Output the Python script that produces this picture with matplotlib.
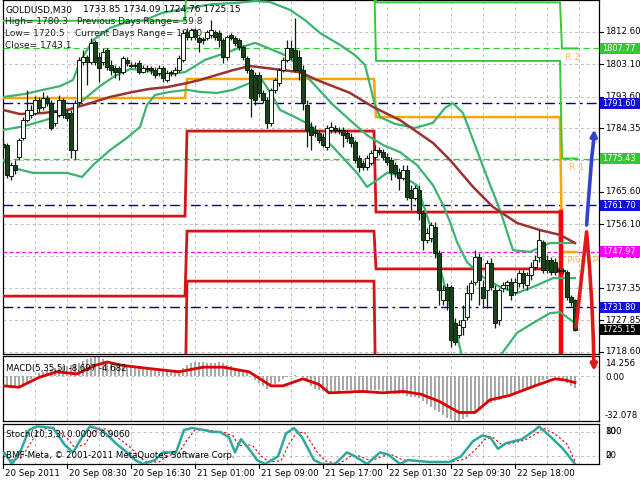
import numpy as np
import matplotlib
matplotlib.use("Agg")
import matplotlib.pyplot as plt
import matplotlib.transforms as mtransforms
from matplotlib.patches import Rectangle
from matplotlib.lines import Line2D

plt.rcParams['font.family'] = ['DejaVu Sans']

# ---------------- candle data (GOLDUSD M30) ----------------
open_ = [1779.7, 1779.4, 1770.3, 1773.5, 1775.9, 1781.5, 1786.7, 1788.2, 1788.8, 1792.6,
         1790.6, 1793.2, 1791.7, 1785.9, 1788.2, 1792.6, 1788.8, 1788.8, 1777.9, 1792.0,
         1803.8, 1805.3, 1803.8, 1809.7, 1805.3, 1803.8, 1807.3, 1802.9, 1802.0, 1802.0,
         1800.8, 1804.4, 1802.9, 1802.9, 1803.5, 1800.8, 1802.0, 1802.0, 1801.4, 1800.6,
         1802.0, 1798.5, 1800.6, 1800.6, 1801.4, 1804.4, 1812.6, 1811.1, 1813.2, 1810.8,
         1810.5, 1810.8, 1811.7, 1812.6, 1812.3, 1810.2, 1805.3, 1811.7, 1810.8, 1810.2,
         1808.2, 1805.0, 1801.4, 1800.0, 1800.0, 1794.7, 1792.6, 1785.9, 1795.6, 1797.6,
         1801.4, 1804.4, 1807.9, 1807.3, 1805.3, 1801.4, 1791.2, 1784.7, 1783.8, 1782.9,
         1781.7, 1778.8, 1783.8, 1784.4, 1783.8, 1783.8, 1782.9, 1781.7, 1780.3, 1775.6,
         1774.1, 1772.9, 1774.1, 1775.9, 1777.9, 1777.3, 1775.9, 1775.0, 1773.5, 1771.5,
         1769.7, 1772.1, 1766.2, 1763.8, 1766.2, 1759.4, 1751.5, 1752.1, 1755.3, 1747.7,
         1733.9, 1737.7, 1737.7, 1727.1, 1723.6, 1725.9, 1728.9, 1735.9, 1739.1, 1746.5,
         1737.7, 1736.8, 1744.7, 1736.8, 1728.0, 1737.4, 1738.3, 1739.1, 1736.2, 1738.9,
         1741.8, 1738.3, 1741.2, 1743.6, 1746.5, 1750.9, 1745.6, 1745.6, 1745.0, 1742.7,
         1742.7, 1742.1, 1734.7, 1733.85]
high_ = [1780.6, 1780.0, 1774.4, 1775.0, 1781.5, 1787.6, 1795.6, 1791.2, 1793.8, 1793.5,
         1795.0, 1794.1, 1792.6, 1789.7, 1794.1, 1793.2, 1789.7, 1789.7, 1792.6, 1805.3,
         1807.3, 1805.8, 1810.8, 1810.2, 1806.7, 1807.9, 1807.9, 1804.4, 1802.9, 1802.6,
         1805.5, 1805.3, 1803.8, 1803.8, 1804.4, 1802.9, 1802.9, 1802.6, 1802.3, 1802.9,
         1802.6, 1801.4, 1801.4, 1802.3, 1805.8, 1813.2, 1813.8, 1813.8, 1813.8, 1811.4,
         1811.1, 1813.2, 1816.1, 1813.2, 1813.2, 1810.8, 1811.7, 1812.3, 1811.4, 1810.8,
         1808.8, 1805.5, 1802.0, 1800.8, 1800.8, 1795.6, 1793.5, 1796.1, 1799.1, 1802.0,
         1805.3, 1810.2, 1810.2, 1816.7, 1807.3, 1802.9, 1792.6, 1786.2, 1785.3, 1783.8,
         1782.9, 1785.3, 1786.2, 1785.3, 1784.7, 1784.7, 1783.8, 1782.9, 1780.9, 1776.5,
         1775.0, 1776.5, 1777.9, 1779.4, 1778.8, 1778.2, 1777.0, 1775.9, 1774.4, 1772.6,
         1773.5, 1773.5, 1767.6, 1767.6, 1767.6, 1760.3, 1755.0, 1756.8, 1756.8, 1748.5,
         1738.3, 1738.9, 1738.3, 1728.6, 1728.0, 1732.4, 1738.3, 1739.7, 1748.5, 1747.7,
         1739.7, 1745.6, 1746.2, 1738.3, 1737.4, 1739.1, 1739.7, 1740.3, 1740.3, 1742.7,
         1742.7, 1742.1, 1745.0, 1747.1, 1754.4, 1751.5, 1747.1, 1746.5, 1746.2, 1743.3,
         1743.3, 1742.7, 1735.3, 1734.09]
low_ = [1777.9, 1769.7, 1769.1, 1770.9, 1775.0, 1780.9, 1786.2, 1787.3, 1788.2, 1789.1,
        1789.7, 1790.9, 1783.8, 1785.0, 1787.6, 1787.3, 1786.4, 1775.6, 1775.3, 1791.2,
        1802.9, 1797.0, 1803.2, 1802.9, 1797.9, 1802.9, 1801.4, 1800.0, 1799.1, 1798.5,
        1800.3, 1802.6, 1802.0, 1802.0, 1800.3, 1800.6, 1800.8, 1800.3, 1799.1, 1799.7,
        1797.9, 1797.9, 1799.7, 1799.7, 1800.8, 1803.8, 1810.2, 1810.2, 1810.2, 1806.7,
        1809.1, 1810.2, 1810.8, 1810.2, 1808.2, 1803.5, 1804.4, 1810.2, 1808.5, 1807.3,
        1804.4, 1800.6, 1787.6, 1791.2, 1793.5, 1791.7, 1784.4, 1785.0, 1794.7, 1796.7,
        1800.8, 1803.8, 1804.4, 1800.8, 1798.5, 1789.7, 1778.8, 1777.9, 1781.7, 1780.0,
        1778.8, 1777.9, 1782.9, 1782.9, 1782.6, 1778.8, 1780.3, 1778.8, 1774.1, 1771.5,
        1772.1, 1772.1, 1773.5, 1775.0, 1776.5, 1775.0, 1773.5, 1769.1, 1770.0, 1766.2,
        1769.1, 1763.2, 1760.3, 1763.2, 1757.4, 1748.5, 1750.6, 1750.9, 1746.2, 1732.4,
        1732.4, 1730.9, 1720.0, 1720.6, 1722.7, 1723.6, 1728.0, 1733.9, 1738.3, 1732.4,
        1731.5, 1731.5, 1736.8, 1725.6, 1726.5, 1736.2, 1736.8, 1733.9, 1735.3, 1737.7,
        1737.4, 1736.8, 1739.7, 1742.7, 1745.0, 1741.8, 1741.8, 1741.2, 1741.2, 1741.8,
        1741.5, 1733.9, 1732.1, 1724.76]
close_ = [1778.8, 1770.6, 1773.5, 1772.1, 1780.9, 1786.7, 1789.7, 1789.7, 1792.6, 1790.3,
          1793.2, 1791.7, 1784.4, 1789.1, 1792.6, 1788.2, 1787.3, 1777.9, 1791.7, 1804.4,
          1805.3, 1803.8, 1809.4, 1803.8, 1802.0, 1806.7, 1802.3, 1801.4, 1800.8, 1800.8,
          1805.0, 1803.5, 1802.6, 1802.6, 1800.8, 1802.0, 1801.7, 1801.4, 1800.0, 1802.0,
          1799.1, 1800.6, 1800.8, 1801.4, 1805.0, 1812.3, 1811.1, 1813.2, 1811.1, 1809.7,
          1810.2, 1812.6, 1813.2, 1811.1, 1810.2, 1805.3, 1811.1, 1810.8, 1809.4, 1808.2,
          1805.3, 1801.4, 1793.2, 1792.6, 1794.7, 1792.6, 1785.9, 1795.6, 1798.5, 1801.4,
          1804.4, 1807.9, 1805.3, 1801.4, 1801.4, 1791.7, 1783.8, 1782.3, 1782.9, 1780.9,
          1779.4, 1784.4, 1784.7, 1783.8, 1783.5, 1782.3, 1781.5, 1780.0, 1775.0, 1772.9,
          1772.9, 1775.6, 1777.0, 1777.9, 1777.3, 1775.9, 1774.4, 1771.5, 1771.2, 1769.7,
          1772.1, 1764.1, 1763.8, 1766.8, 1759.4, 1751.5, 1753.5, 1755.9, 1747.7, 1736.8,
          1736.8, 1733.9, 1722.1, 1721.5, 1726.5, 1728.0, 1735.9, 1738.9, 1746.5, 1739.7,
          1734.4, 1744.7, 1737.7, 1727.1, 1736.8, 1738.3, 1739.1, 1735.3, 1739.1, 1741.8,
          1738.9, 1741.2, 1743.6, 1745.6, 1751.5, 1742.7, 1742.7, 1742.1, 1742.1, 1742.4,
          1742.4, 1734.7, 1733.3, 1725.15]

# ---------------- indicator readings (bar position, value) ----------------
bb_up_x = [0, 5.5, 10, 14.25, 17.5, 19.25, 22.5, 26.75, 31, 35.5, 39.75, 43.75, 48, 52.25, 58, 63,
           66.75, 71.75, 75.5, 79.25, 84.25, 88, 90.5, 91.75, 93, 94.25, 98, 103, 107.5, 110.5,
           112.5, 115, 118, 121, 124.25, 127.5, 131.75, 136.75, 143]
bb_up_y = [1793.5, 1794.4, 1795.6, 1796.7, 1798.5, 1803.8, 1810.2, 1813.8, 1815.5, 1816.1, 1818.2,
           1819.1, 1819.9, 1820.8, 1821.1, 1821.7, 1821.4, 1819.1, 1816.1, 1812.3, 1808.8, 1805.8,
           1802.9, 1797.0, 1791.2, 1787.6, 1785.6, 1784.4, 1785.9, 1790.3, 1791.7, 1788.8, 1779.4,
           1770.0, 1760.3, 1748.5, 1748.0, 1750.6, 1750.6]
bb_mid_x = [0, 5.5, 10.5, 14.25, 18, 21.25, 24.25, 28, 31.75, 35.5, 40.5, 45.5, 50.5, 55.5, 59.75,
            63, 66.25, 70.5, 73, 76.75, 82.5, 86.75, 91, 95, 99.25, 103.5, 107.5, 110, 111.75,
            113.5, 116, 120, 124.25, 128.5, 132.5, 137.5, 143]
bb_mid_y = [1783.8, 1785.0, 1786.7, 1788.2, 1790.6, 1793.8, 1796.7, 1799.7, 1801.7, 1801.4, 1800.0,
            1800.8, 1804.4, 1806.4, 1808.2, 1809.4, 1807.9, 1805.8, 1803.8, 1798.5, 1791.2, 1786.7,
            1782.3, 1779.4, 1777.3, 1773.5, 1767.6, 1761.8, 1756.8, 1750.9, 1745.0, 1740.6, 1737.7,
            1735.9, 1737.7, 1740.3, 1740.3]
bb_lo_x = [0, 1.75, 7.5, 16, 19.75, 22.5, 26.75, 31, 34.25, 36, 38, 41.75, 46, 49.25, 53.5, 57.5,
           61.75, 64.75, 67.25, 69.25, 73, 76.75, 82.5, 88.5, 91, 93.5, 96, 99.25, 103.5, 106.75,
           109.25, 112.5, 115, 116.75, 121.75, 123.5, 128.5, 132.5, 136.75, 139.25, 143]
bb_lo_y = [1775.0, 1772.9, 1771.2, 1771.2, 1770.0, 1773.5, 1777.9, 1781.5, 1784.7, 1791.2, 1794.1,
           1795.0, 1795.6, 1795.0, 1794.7, 1795.6, 1797.6, 1798.5, 1794.1, 1789.7, 1787.6, 1785.3,
           1778.8, 1771.2, 1767.1, 1769.1, 1771.2, 1770.6, 1767.6, 1755.9, 1743.6, 1728.0, 1716.2,
           1710.3, 1710.3, 1716.2, 1724.2, 1727.1, 1730.0, 1730.3, 1727.1]
ma_x = [0, 4.25, 10, 16, 21, 26.75, 32.5, 36.75, 41, 46, 49.25, 53.5, 57.5, 61.75, 66, 70, 74.25,
        78.5, 86.75, 92.5, 99.25, 107.5, 111.75, 117.5, 122.5, 128.5, 134.25, 139.25, 143]
ma_y = [1789.7, 1788.5, 1788.8, 1789.7, 1791.4, 1793.5, 1795.0, 1795.9, 1796.4, 1797.6, 1798.5,
        1800.0, 1801.4, 1802.6, 1802.0, 1801.4, 1800.8, 1798.5, 1794.7, 1790.6, 1786.7, 1780.0,
        1775.0, 1767.1, 1761.2, 1756.5, 1754.4, 1753.0, 1750.6]

# daily pivot levels (4 days)
day_start = [0, 46, 93.25, 139.75]
day_end = [45.5, 92.75, 139.25, 143.5]
pivot_p = [1793.2, 1798.8, 1787.6, 1747.97]
pivot_r1 = [1815.9, 1830.0, 1804.1, 1775.43]
pivot_r2 = [1835.0, 1840.0, 1821.3, 1807.77]
pivot_s1 = [1758.5, 1783.5, 1759.7, 1700.0]
pivot_s2 = [1735.0, 1754.1, 1743.0, 1695.0]
pivot_s3 = [1700.0, 1739.4, 1700.0, 1690.0]

navy_levels = [1791.60, 1761.70, 1731.80]
green_levels = [1807.77, 1775.43]
magenta_level = 1747.97
last_price = 1725.15

price_grid = [1812.60, 1803.10, 1793.60, 1784.35, 1775.10, 1765.60, 1756.10, 1746.85,
              1737.35, 1727.85, 1718.60]
price_grid_labels = [1812.60, 1803.10, 1793.60, 1784.35, 1765.60, 1756.10, 1746.85,
                     1737.35, 1727.85, 1718.60]

blue_x = [145.9, 146.3, 146.75, 147.2, 147.6]
blue_y = [1755.9, 1762.3, 1769.1, 1775.9, 1780.0]
blue_tip = (147.85, 1784.0)
red_x = [143.25, 144.3, 145.2, 145.9, 146.6, 147.2, 147.6]
red_y = [1725.9, 1737.0, 1746.5, 1753.9, 1744.0, 1733.0, 1722.0]
red_tip = (147.75, 1713.0)

macd_hist = [-6, -7, -8, -8, -7, -6,
             -4, -2, 0, 2,
             3, 4, 5, 6, 6, 7, 7, 8, 8, 9,
             11, 12, 13, 14.2, 13.5, 12, 11,
             10, 9, 8, 8, 7, 7, 7, 6, 6, 6, 6, 5, 5, 4, 4, 3, 3, 4,
             6, 8, 9, 10, 10, 10, 9, 9, 9, 10, 9, 8, 7,
             6, 5, 4, 2, 0, -3, -5, -7, -9,
             -8, -6, -4, -2, -1, 0, 1, 0, -1,
             -4, -7, -9, -10, -11, -12, -12,
             -11, -11, -10, -10, -10, -11, -12, -12, -11, -10, -10, -10, -11,
             -12, -12, -13, -13, -13, -14, -15, -15, -16,
             -18, -20, -22, -24, -26, -28, -30, -31, -32, -32.078,
             -31, -29, -27, -25, -23, -21,
             -20, -19, -18, -17, -16, -15, -14, -13, -12, -11, -10, -8, -7, -5, -3, -2, -1,
             -1, -2, -3, -5, -7, -8.697]
macd_sig_x = [0, 4, 9, 13.5, 18.5, 23, 26, 30, 37.5, 44, 50, 55, 61.5, 67, 70, 75, 79, 81.5, 90,
              95, 100, 104.5, 109, 114, 118, 121.75, 126.5, 133, 138, 140.75, 143]
macd_sig_y = [-7, -8, -1, 3, 1.5, 7.5, 10, 7.5, 5, 3, 6.3, 6.3, 3, -7, -7, -2, -6, -12, -11, -12,
              -11, -13, -18, -26, -26, -17, -14, -7, -2, -3, -4.682]

stoch_k_x = [0, 0.25, 2.25, 4.25, 6.5, 8.5, 12.5, 15.5, 17.5, 19.75, 21.75, 24.75, 28.75, 31, 33,
             35, 38, 40, 43.25, 45.25, 47.25, 50.25, 52.25, 54.25, 56.5, 58, 59.5, 61.5, 63.5, 65.5,
             68.75, 70.75, 72.75, 74.75, 77.75, 79.75, 83, 86, 88, 91, 94.25, 96.25, 99.25, 101.25,
             106.5, 111.5, 114.5, 117.5, 119.75, 121.75, 123.75, 125.75, 129.75, 133, 134, 137, 140, 143]
stoch_k_y = [25, 29, 0, 29, 85, 94, 90, 47, 29, 67, 94, 85, 47, 29, 10, 0, 10, 29, 29, 85, 90, 85,
             80, 80, 67, 29, 62, 38, 10, 0, 19, 76, 90, 67, 10, 0, 0, 29, 19, 0, 29, 24, 0, 10, 5,
             5, 19, 57, 71, 67, 38, 52, 62, 85, 94, 67, 38, 0]
stoch_d_x = [0, 2.25, 4.5, 6.75, 9, 12.5, 16, 18, 20.5, 22.5, 25.5, 29.5, 32, 34, 36, 39, 41, 44,
             46, 48, 51, 53, 55, 57.5, 59, 60.5, 62.5, 64.5, 66.5, 69.5, 71.5, 73.5, 75.5, 78.5,
             80.5, 84, 87, 89, 92, 95, 97, 100, 102, 107, 112, 115.5, 118.5, 120.5, 122.5, 124.5,
             126.5, 130.5, 134, 135, 138, 141, 143]
stoch_d_y = [20, 10, 15, 50, 85, 92, 65, 40, 50, 80, 88, 60, 40, 18, 5, 5, 20, 28, 60, 85, 85, 82,
             80, 70, 45, 50, 45, 20, 5, 8, 50, 80, 78, 30, 8, 0, 20, 20, 8, 20, 24, 10, 8, 5, 5,
             12, 40, 62, 66, 50, 50, 60, 80, 90, 75, 50, 6.906]

time_labels = ["20 Sep 2011", "20 Sep 08:30", "20 Sep 16:30", "21 Sep 01:00", "21 Sep 09:00",
               "21 Sep 17:00", "22 Sep 01:30", "22 Sep 09:30", "22 Sep 18:00"]
time_label_bars = [0, 16, 32, 48, 64, 80, 96, 112, 128]

# ---------------- layout ----------------
W, H = 640, 480
fig = plt.figure(figsize=(6.4, 4.8), dpi=100)
fig.patch.set_facecolor('white')
def fx(px): return px / W
def fy(py): return 1 - py / H

L, R = 3, 599
NB = (R - L) / 4.0
FS = 6.2
GRID = '#BEBEBE'

def make_ax(top, bottom):
    a = fig.add_axes([fx(L), fy(bottom), (R - L) / W, (bottom - top) / H])
    a.set_xlim(0, NB)
    a.set_xticks([]); a.set_yticks([])
    for s in a.spines.values():
        s.set_linewidth(0.9); s.set_color('black')
    for b in range(8, int(NB) + 1, 8):
        a.axvline(b, color=GRID, lw=0.7, dashes=(3, 3), zorder=1)
    return a

ax2 = make_ax(356, 421)
ax2.set_ylim(-32.078, 14.256)
ax3 = make_ax(424, 464)
ax3.set_ylim(0, 100)
ax = make_ax(0, 354)
ax.set_ylim(1718.0, 1822.0)
ax.set_zorder(5)

# ---------------- main panel ----------------
for lv in price_grid:
    ax.axhline(lv, color=GRID, lw=0.7, dashes=(3, 3), zorder=1)
for lv in navy_levels:
    ax.axhline(lv, color='#000080', lw=1.0, dashes=(7, 3, 2, 3), zorder=3)
for lv in green_levels:
    ax.axhline(lv, color='#32CD32', lw=0.9, dashes=(5, 3), zorder=3)
ax.axhline(magenta_level, color='#FF00FF', lw=0.9, dashes=(3, 2), zorder=3)

def step_line(vals):
    xs, ys = [], []
    for d in range(4):
        xs += [day_start[d], day_end[d]]
        ys += [vals[d], vals[d]]
    return xs, ys

for vals, col, lw in [(pivot_s3, '#D41515', 2.0), (pivot_s2, '#D41515', 2.0),
                      (pivot_s1, '#D41515', 2.0), (pivot_p, '#FFA500', 1.8),
                      (pivot_r1, '#32CD32', 1.4), (pivot_r2, '#32CD32', 1.4)]:
    xs, ys = step_line(vals)
    ax.plot(xs, ys, color=col, lw=lw, zorder=4, solid_joinstyle='miter')
ax.plot([139.5, 139.5], [pivot_s1[2], 1710.0], color='#FF0000', lw=3.2, zorder=4)

ax.plot(bb_up_x, bb_up_y, color='#3CB371', lw=1.6, zorder=5)
ax.plot(bb_mid_x, bb_mid_y, color='#3CB371', lw=1.6, zorder=5)
ax.plot(bb_lo_x, bb_lo_y, color='#3CB371', lw=1.6, zorder=5)
ax.plot(ma_x, ma_y, color='#9A3232', lw=1.8, zorder=6)

for txt, bx, lv in [("R 2", 140.5, 1805.2), ("R 1", 141.5, 1772.9), ("Pivot Point", 141.0, 1745.6)]:
    ax.text(bx, lv, txt, color='#F2B86A', fontsize=FS + 0.5, va='center', ha='left', zorder=7,
            clip_on=True)

# header texts
hdr = dict(transform=fig.transFigure, fontsize=FS + 0.3, va='center', ha='left', zorder=8, clip_on=False)
ax.text(fx(5), fy(10), "GOLDUSD,M30", color='black', **hdr)
ax.text(fx(83), fy(10), "1733.85 1734.09 1724.76 1725.15", color='black', **hdr)
ax.text(fx(5), fy(21), "High= 1780.3", color='#202020', **hdr)
ax.text(fx(77), fy(21), "Previous Days Range= 59.8", color='#202020', **hdr)
ax.text(fx(5), fy(33), "Low= 1720.5", color='#202020', **hdr)
ax.text(fx(75), fy(33), "Current Days Range= 19.00", color='#202020', **hdr)
ax.text(fx(5), fy(45), "Close= 1743.1", color='#202020', **hdr)

# candles
n = min(len(open_), len(high_), len(low_), len(close_))
o = np.array(open_[:n]); hi = np.array(high_[:n]); lo = np.array(low_[:n]); c = np.array(close_[:n])
xb = np.arange(n)
up = c >= o
ax.vlines(xb, lo, hi, color='#0b1f0b', lw=0.9, zorder=30)
body_b = np.minimum(o, c)
body_h = np.maximum(np.abs(c - o), 0.25)
ax.bar(xb, body_h, bottom=body_b, width=0.8,
       color=['white' if u else '#1a421a' for u in up],
       edgecolor='#0b1f0b', linewidth=0.7, zorder=31)

# forecast arrows
ax.plot(red_x, red_y, color='#E01818', lw=2.6, zorder=40, clip_on=False, solid_capstyle='round')
ax.annotate('', xy=red_tip, xytext=(red_x[-1], red_y[-1]), annotation_clip=False, zorder=40,
            arrowprops=dict(arrowstyle='-|>', color='#E01818', lw=2.6, mutation_scale=9,
                            shrinkA=0, shrinkB=0))
ax.plot(blue_x, blue_y, color='#3344C8', lw=2.6, zorder=40, clip_on=False, solid_capstyle='round')
ax.annotate('', xy=blue_tip, xytext=(blue_x[-1], blue_y[-1]), annotation_clip=False, zorder=40,
            arrowprops=dict(arrowstyle='-|>', color='#3344C8', lw=2.6, mutation_scale=9,
                            shrinkA=0, shrinkB=0))

# right price scale
tr = mtransforms.blended_transform_factory(fig.transFigure, ax.transData)
for lv in price_grid:
    ax.plot([fx(599), fx(603)], [lv, lv], transform=tr, color='black', lw=0.8, clip_on=False)
for lv in price_grid_labels:
    ax.text(fx(605), lv, f"{lv:.2f}", transform=tr, fontsize=FS, va='center', ha='left',
            clip_on=False, zorder=50)

def price_box(lv, color):
    hgt = 11 * 104.0 / 354.0
    ax.add_artist(Rectangle((fx(600), lv - hgt / 2), 40 / W, hgt, transform=tr, facecolor=color,
                            edgecolor='none', clip_on=False, zorder=55))
    ax.text(fx(602.5), lv, f"{lv:.2f}", transform=tr, fontsize=5.9, va='center', ha='left',
            color='white', clip_on=False, zorder=56)

price_box(green_levels[0], '#32C832')
price_box(navy_levels[0], '#1010D8')
price_box(green_levels[1], '#32C832')
price_box(navy_levels[1], '#1010D8')
price_box(magenta_level, '#FF00FF')
price_box(navy_levels[2], '#1010D8')
price_box(last_price, '#000000')

# ---------------- MACD panel ----------------
ax2.axhline(0, color=GRID, lw=0.7, dashes=(3, 3), zorder=1)
ax2.bar(np.arange(len(macd_hist)), macd_hist, width=0.45, color='#A8A8A8', zorder=2)
ax2.plot(macd_sig_x, macd_sig_y, color='#DD0000', lw=2.0, zorder=3)
fig.text(fx(6), fy(369), "MACD(5,35,5) -8.697 -4.682", fontsize=FS, va='center', ha='left')
fig.text(fx(605), fy(364), "14.256", fontsize=FS, va='center', ha='left')
fig.text(fx(605), fy(378), "0.00", fontsize=FS, va='center', ha='left')
fig.text(fx(605), fy(415), "-32.078", fontsize=FS, va='center', ha='left')

# ---------------- Stochastic panel ----------------
for lv in (80, 20):
    ax3.axhline(lv, color=GRID, lw=0.7, dashes=(3, 3), zorder=1)
ax3.plot(stoch_d_x, stoch_d_y, color='#DD0000', lw=0.8, dashes=(2, 2), zorder=2)
ax3.plot(stoch_k_x, stoch_k_y, color='#2EA89C', lw=1.8, zorder=3)
fig.text(fx(6), fy(435), "Stoch(10,3,3) 0.0000 6.9060", fontsize=FS, va='center', ha='left')
fig.text(fx(6), fy(455), "BMF-Meta, \u00a9 2001-2011 MetaQuotes Software Corp.", fontsize=FS,
         va='center', ha='left')
for t, yy in [("100", 431), ("80", 431), ("20", 455), ("0", 455)]:
    fig.text(fx(605), fy(yy), t, fontsize=FS, va='center', ha='left')

# ---------------- time axis ----------------
for lab, b in zip(time_labels, time_label_bars):
    px = L + 4 * b
    fig.add_artist(Line2D([fx(px), fx(px)], [fy(464), fy(468)], color='black', lw=0.8))
    fig.text(fx(px + 2), fy(473), lab, fontsize=FS, va='center', ha='left')

fig.savefig("out.png", dpi=100)
